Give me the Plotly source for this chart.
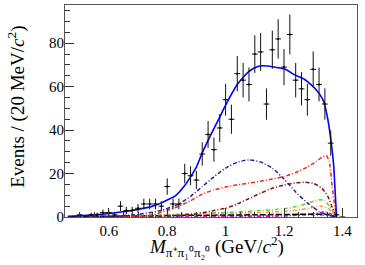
import numpy as np
import plotly.graph_objects as go

# ---- data points (bin centres, counts) ----
data_x = [0.48, 0.50, 0.52, 0.54, 0.56, 0.58, 0.60, 0.62, 0.64, 0.66, 0.68, 0.70,
          0.72, 0.74, 0.76, 0.78, 0.80, 0.82, 0.84, 0.86, 0.88, 0.90, 0.92, 0.94,
          0.96, 0.98, 1.00, 1.02, 1.04, 1.06, 1.08, 1.10, 1.12, 1.14, 1.16, 1.18,
          1.20, 1.22, 1.24, 1.26, 1.28, 1.30, 1.32, 1.34, 1.36, 1.38, 1.40]
data_y = [0, 1, 0, 1, 1, 2, 2, 1, 5, 3, 3, 4,
          6, 6, 6, 5, 14, 6, 6, 20, 19, 17, 29, 38,
          31, 41, 54, 45, 66, 63, 61, 75, 76, 52, 77, 82,
          69, 84, 63, 59, 54, 68, 61, 52, 34, 1, 0]

# ---- fit curves ----
total_x = [0.46, 0.50, 0.55, 0.60, 0.65, 0.70, 0.75, 0.78, 0.80, 0.83, 0.86, 0.88, 0.90,
           0.92, 0.95, 0.98, 1.00, 1.04, 1.08, 1.11, 1.13, 1.16, 1.20, 1.24, 1.27, 1.31,
           1.335, 1.35, 1.36, 1.37, 1.375, 1.38]
total_y = [0.3, 0.6, 1.0, 1.6, 2.4, 3.5, 5.0, 6.5, 7.8, 10.0, 14.5, 18.5, 23.0,
           29.5, 38.0, 46.0, 51.5, 61.0, 67.0, 69.3, 69.6, 69.2, 68.2, 65.2, 63.4, 58.6,
           53.5, 45.0, 36.0, 24.0, 12.0, 0.0]

navy_x = [0.46, 0.60, 0.70, 0.78, 0.84, 0.88, 0.92, 0.96, 1.00, 1.04, 1.08, 1.12, 1.16,
          1.20, 1.24, 1.28, 1.30, 1.32, 1.35, 1.38]
navy_y = [0.0, 0.3, 1.2, 3.0, 6.0, 9.5, 14.0, 18.5, 22.5, 25.2, 26.3, 25.3, 22.5,
          17.5, 11.5, 6.5, 4.5, 2.5, 0.8, 0.0]

red_x = [0.46, 0.70, 0.75, 0.80, 0.84, 0.88, 0.92, 0.96, 1.00, 1.04, 1.08, 1.12, 1.16,
         1.20, 1.24, 1.28, 1.31, 1.33, 1.345, 1.355, 1.365, 1.375, 1.38]
red_y = [0.0, 0.3, 1.0, 3.0, 5.0, 7.5, 10.5, 12.5, 13.8, 14.8, 15.6, 16.5, 17.5,
         18.6, 20.5, 23.0, 25.5, 27.5, 28.3, 25.5, 14.0, 4.0, 0.0]

brown_x = [0.46, 0.80, 0.90, 0.96, 1.00, 1.04, 1.08, 1.12, 1.16, 1.20, 1.24, 1.27,
           1.30, 1.33, 1.35, 1.365, 1.38]
brown_y = [0.0, 0.5, 1.5, 3.0, 4.0, 6.0, 8.5, 11.0, 13.2, 14.7, 15.7, 16.0,
           15.5, 13.2, 9.5, 4.5, 0.0]

green_x = [0.46, 0.60, 0.70, 0.80, 0.90, 1.00, 1.10, 1.20, 1.25, 1.29, 1.32, 1.34,
           1.355, 1.37, 1.38]
green_y = [0.0, 0.2, 0.6, 1.1, 1.6, 2.1, 2.8, 3.8, 5.0, 6.8, 7.9, 7.5,
           5.0, 2.0, 0.0]

orange_x = [0.46, 0.70, 0.80, 0.90, 1.00, 1.10, 1.20, 1.26, 1.30, 1.33, 1.35, 1.37, 1.38]
orange_y = [0.0, 0.3, 0.8, 1.2, 1.6, 2.0, 2.6, 3.4, 4.5, 5.0, 4.0, 1.5, 0.0]

black_x = [0.46, 0.50, 0.70, 0.90, 1.10, 1.30, 1.35, 1.38]
black_y = [0.0, 0.2, 0.5, 0.8, 1.0, 1.3, 1.2, 0.0]

magenta_x = [0.46, 1.00, 1.20, 1.30, 1.34, 1.36, 1.38]
magenta_y = [0.0, 0.2, 0.5, 1.5, 2.3, 1.5, 0.0]

cyan_x = [0.46, 0.50, 0.80, 1.10, 1.30, 1.36, 1.38]
cyan_y = [0.0, 0.2, 0.4, 0.6, 0.8, 0.7, 0.0]

x_ticks = [0.6, 0.8, 1.0, 1.2, 1.4]
x_tick_text = ["0.6", "0.8", "1", "1.2", "1.4"]
y_ticks = [0, 20, 40, 60, 80]

x_title = "<i>M</i><sub>π⁺π₁⁰π₂⁰</sub> (GeV/<i>c</i><sup>2</sup>)"
y_title = "Events / (20 MeV/<i>c</i><sup>2</sup>)"

fig = go.Figure()

components = [
    (cyan_x, cyan_y, "#00cccc", "4px,2px,1px,2px"),
    (magenta_x, magenta_y, "#ee00ee", "4px,2px,1px,2px"),
    (black_x, black_y, "#000000", "6px,2px"),
    (orange_x, orange_y, "#ff9933", "4px,2px,1px,2px"),
    (green_x, green_y, "#66cc44", "4px,2px,1px,2px"),
    (brown_x, brown_y, "#881111", "4px,2px,1px,2px"),
    (red_x, red_y, "#ff2020", "4px,2px,1px,2px"),
    (navy_x, navy_y, "#222299", "4px,2px,1px,2px"),
]
for cx, cy, col, dash in components:
    fig.add_trace(go.Scatter(x=cx, y=cy, mode="lines",
                             line=dict(color=col, width=1.5, dash=dash, shape="spline", smoothing=0.6),
                             hoverinfo="skip", showlegend=False))

fig.add_trace(go.Scatter(x=total_x, y=total_y, mode="lines",
                         line=dict(color="#0000ff", width=1.6, shape="spline", smoothing=0.6),
                         hoverinfo="skip", showlegend=False))

fig.add_trace(go.Scatter(
    x=data_x, y=data_y, mode="markers",
    marker=dict(size=2, color="black"),
    error_y=dict(type="data", array=list(np.sqrt(np.array(data_y, dtype=float))),
                 color="#111111", thickness=1, width=0),
    error_x=dict(type="constant", value=0.01, color="#111111", thickness=1, width=0),
    hoverinfo="skip", showlegend=False))

axis_font = dict(family="Liberation Serif", size=15, color="black")

fig.update_xaxes(range=[0.45, 1.45], tickvals=x_ticks, ticktext=x_tick_text,
                 ticks="inside", ticklen=9, tickcolor="#333", tickwidth=1,
                 minor=dict(dtick=0.05, ticks="inside", ticklen=5, tickcolor="#333"),
                 showline=True, linecolor="#555", linewidth=1, mirror=True,
                 showgrid=False, zeroline=False, tickfont=axis_font, automargin=False)
fig.update_yaxes(range=[0, 97.6], tickvals=y_ticks,
                 ticks="inside", ticklen=9, tickcolor="#333", tickwidth=1,
                 minor=dict(dtick=5, ticks="inside", ticklen=5, tickcolor="#333"),
                 showline=True, linecolor="#555", linewidth=1, mirror=True,
                 showgrid=False, zeroline=False, tickfont=axis_font, automargin=False,
                 ticklabelstandoff=-3)

title_font = dict(family="Liberation Serif", size=19, color="black")
fig.add_annotation(text=x_title, xref="paper", yref="paper", x=0.52, y=-0.14,
                   xanchor="center", yanchor="middle", showarrow=False, font=title_font)
fig.add_annotation(text=y_title, xref="paper", yref="paper", x=-0.164, y=0.52,
                   xanchor="center", yanchor="middle", textangle=-90, showarrow=False,
                   font=title_font)

fig.update_layout(width=365, height=265, margin=dict(l=65, r=8, t=5, b=48),
                  paper_bgcolor="white", plot_bgcolor="white", hovermode=False)

fig.write_html("out.html", config={"displayModeBar": False, "staticPlot": True},
               post_script="document.body.style.margin='0';document.body.style.overflow='hidden';")
